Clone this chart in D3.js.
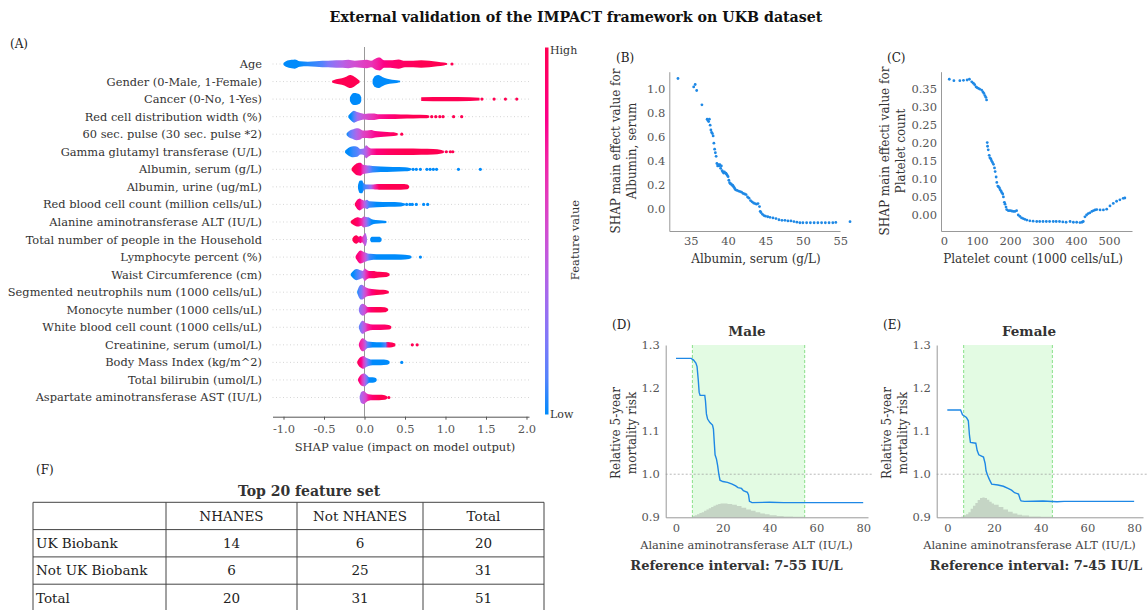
<!DOCTYPE html>
<html>
<head>
<meta charset="utf-8">
<script src="https://cdn.jsdelivr.net/npm/d3@7"></script>
<style>
  body { margin: 0; background: #fff; }
  svg { display: block; }
  text { font-family: "DejaVu Serif", "Liberation Serif", serif; }
</style>
</head>
<body>
<svg id="chart" width="1148" height="610"></svg>
<script>
// ---------- Panel A: SHAP summary (beeswarm) ----------
const features = [
  "Age", "Gender (0-Male, 1-Female)", "Cancer (0-No, 1-Yes)",
  "Red cell distribution width (%)", "60 sec. pulse (30 sec. pulse *2)",
  "Gamma glutamyl transferase (U/L)", "Albumin, serum (g/L)", "Albumin, urine (ug/mL)",
  "Red blood cell count (million cells/uL)", "Alanine aminotransferase ALT (IU/L)",
  "Total number of people in the Household", "Lymphocyte percent (%)",
  "Waist Circumference (cm)", "Segmented neutrophils num (1000 cells/uL)",
  "Monocyte number (1000 cells/uL)", "White blood cell count (1000 cells/uL)",
  "Creatinine, serum (umol/L)", "Body Mass Index (kg/m^2)", "Total bilirubin (umol/L)",
  "Aspartate aminotransferase AST (IU/L)"
];
const shapTicks = [-1.0, -0.5, 0.0, 0.5, 1.0, 1.5, 2.0];

// per feature: list of swarm segments, each knot = [SHAP value, point density, feature value 0..1]
const swarmProfiles = [
  [[[-1.00,1,0],[-0.97,3,0],[-0.90,4.5,0],[-0.86,5,0],[-0.80,3,0],[-0.70,2.5,0.02],[-0.60,3,0.05],[-0.52,3.5,0.1],[-0.45,3.5,0.2],[-0.35,4,0.3],[-0.27,4,0.38],[-0.20,4.5,0.45],[-0.12,3.5,0.5],[-0.05,4,0.55],[0.03,4.5,0.6],[0.08,3.5,0.62],[0.15,6.5,0.7],[0.19,7,0.75],[0.24,4,0.82],[0.32,4,0.88],[0.42,5,0.92],[0.50,3.5,0.95],[0.60,3.5,0.97],[0.70,4,1],[0.80,3.5,1],[0.90,2.5,1],[0.98,1.5,1],[1.02,0.8,1]]],
  [[[-0.40,1,1],[-0.35,2.5,1],[-0.28,3.5,1],[-0.22,5.5,1],[-0.18,7,1],[-0.13,5.5,1],[-0.09,3,1],[-0.06,1,1]],
   [[0.10,2,0],[0.13,6,0],[0.17,7,0],[0.22,5,0],[0.28,3,0],[0.34,2,0],[0.40,1.5,0],[0.44,0.8,0]]],
  [[[-0.18,2,0],[-0.16,5,0],[-0.13,6.5,0],[-0.09,6,0],[-0.06,5,0],[-0.04,2,0]],
   [[0.70,2,1],[1.00,2.2,1],[1.30,2,1],[1.42,1.5,1]]],
  [[[-0.20,1,0],[-0.17,4,0],[-0.13,6.5,0.1],[-0.09,5,0.3],[-0.05,4,0.4],[0.0,3,0.5],[0.05,3.5,0.55],[0.12,3.5,0.65],[0.18,2.5,0.75],[0.30,2.5,0.85],[0.45,2.2,0.95],[0.60,2,1],[0.77,1.8,1],[0.80,1,1]]],
  [[[-0.22,1,0],[-0.19,3.5,0.1],[-0.15,5,0.2],[-0.10,6.5,0.35],[-0.06,6,0.45],[-0.02,4,0.55],[0.03,4,0.62],[0.08,4.5,0.7],[0.13,3.5,0.78],[0.20,3,0.85],[0.28,2.5,0.9],[0.36,2,0.95],[0.41,1,1]]],
  [[[-0.24,1,0],[-0.20,4,0],[-0.14,6,0.05],[-0.09,5.5,0.1],[-0.05,3,0.2],[-0.01,3.5,0.3],[0.02,7,0.4],[0.05,5,0.55],[0.09,3.5,0.7],[0.15,3.5,0.85],[0.30,3.5,0.95],[0.50,3.5,1],[0.70,3.3,1],[0.85,3,1],[0.95,2,1],[0.98,1,1]]],
  [[[-0.16,1,1],[-0.13,4,1],[-0.09,6.5,0.95],[-0.05,7,0.85],[-0.02,5,0.6],[0.02,4.5,0.4],[0.06,4,0.2],[0.10,3.5,0.05],[0.20,3,0],[0.35,2.5,0],[0.50,2.2,0],[0.56,1.5,0],[0.58,0.8,0]]],
  [[[-0.08,2,0],[-0.06,6.5,0],[-0.03,7,0],[-0.01,4,0.05],[0.02,2.5,0.1],[0.08,2.5,0.3],[0.13,2.8,0.7],[0.18,3,0.95],[0.30,3,1],[0.45,3,1],[0.53,2.5,1],[0.55,1,1]]],
  [[[-0.12,1,1],[-0.09,5,0.9],[-0.06,6.5,0.8],[-0.03,5,0.6],[0.0,4,0.4],[0.03,5,0.2],[0.06,3.5,0.05],[0.15,3,0],[0.30,2.5,0],[0.45,2.2,0],[0.50,1,0]]],
  [[[-0.17,1,1],[-0.13,3.5,1],[-0.08,5,0.9],[-0.04,4,0.7],[-0.01,6,0.5],[0.02,5.5,0.3],[0.05,5,0.1],[0.09,3,0],[0.14,2,0],[0.22,1.5,0],[0.27,1,0]]],
  [[[-0.15,1,1],[-0.13,3.5,1],[-0.10,4.5,1],[-0.07,3,0.9],[-0.05,4,0.8],[-0.03,3,0.7],[-0.01,5,0.5],[0.01,7,0.4],[0.03,2,0.3]],
   [[0.07,1,0],[0.09,3,0],[0.13,3,0],[0.18,3,0],[0.21,1.5,0]]],
  [[[-0.11,1,0.9],[-0.08,5,0.85],[-0.05,7,0.75],[-0.02,6,0.6],[0.01,5,0.45],[0.04,4,0.2],[0.07,3.5,0.05],[0.15,3,0],[0.30,3,0],[0.45,2.8,0],[0.55,2,0],[0.58,1,0]]],
  [[[-0.17,1,0],[-0.14,4,0],[-0.10,6,0.05],[-0.06,5,0.15],[-0.02,4,0.35],[0.0,7,0.5],[0.03,5,0.7],[0.06,4,0.85],[0.10,4,0.95],[0.18,3,1],[0.27,2.5,1],[0.31,1,1]]],
  [[[-0.09,1,0],[-0.07,5.5,0.1],[-0.04,8,0.2],[-0.01,7,0.4],[0.02,5,0.55],[0.05,4,0.7],[0.09,3.5,0.85],[0.15,3,1],[0.23,2.5,1],[0.29,1.5,1],[0.30,0.8,1]]],
  [[[-0.07,1,0.2],[-0.05,5,0.3],[-0.02,6.5,0.4],[0.01,5,0.5],[0.04,3,0.75],[0.08,3,0.9],[0.15,3,1],[0.25,2.8,1],[0.29,1,1]]],
  [[[-0.07,1,0.1],[-0.05,5,0.2],[-0.02,7,0.35],[0.01,5,0.5],[0.04,4,0.7],[0.10,3,0.85],[0.20,3,0.9],[0.30,2.5,0.95],[0.33,1,1]]],
  [[[-0.07,1,0.8],[-0.05,5,0.7],[-0.02,7,0.6],[0.01,5.5,0.4],[0.04,3.5,0.1],[0.10,3,0],[0.20,2.8,0],[0.26,2.8,0.1],[0.29,3,0.9],[0.34,2.5,1],[0.38,1.5,1]]],
  [[[-0.09,1,1],[-0.07,4,0.95],[-0.04,6,0.8],[-0.01,7,0.55],[0.02,5,0.3],[0.05,4,0.1],[0.10,3,0],[0.20,3,0],[0.28,2.5,0],[0.31,1,0]]],
  [[[-0.08,1,0.9],[-0.06,4,0.85],[-0.03,6.5,0.6],[0.0,7,0.4],[0.03,5,0.15],[0.06,3,0],[0.10,3,0],[0.14,2,0],[0.15,1,0]]],
  [[[-0.06,1,0.3],[-0.04,6,0.35],[-0.01,7,0.45],[0.02,5,0.55],[0.05,3.5,0.75],[0.10,3,0.9],[0.18,3,1],[0.25,2.5,1],[0.28,1,1]]]
];

// isolated points: [feature index, SHAP value, feature value]
const swarmOutliers = [
  [0,1.08,1],
  [2,1.45,1],[2,1.60,1],[2,1.74,1],[2,1.88,1],
  [3,0.83,1],[3,0.88,1],[3,0.93,1],[3,0.97,1],[3,1.10,1],[3,1.20,1],
  [4,0.46,1],
  [5,1.01,1],[5,1.06,1],[5,1.09,1],
  [6,0.60,0],[6,0.64,0],[6,0.69,0],[6,0.77,0],[6,0.81,0],[6,0.85,0],[6,0.89,0],[6,1.16,0],[6,1.43,0],
  [8,0.52,0],[8,0.56,0],[8,0.59,0],[8,0.64,0],[8,0.73,0],[8,0.78,0],
  [11,0.69,0],
  [16,0.59,1],[16,0.65,1],
  [17,0.46,0],
  [19,0.30,1]
];

// ---------- Panel B: Albumin, serum dependence ----------
const albuminValues = [33.3,35.4,35.6,35.8,36.5,37.2,37.3,37.4,37.5,37.6,37.7,37.8,37.9,38.0,38.1,38.2,38.3,38.4,38.5,38.6,38.7,38.8,38.9,39.0,39.1,39.2,39.3,39.4,39.5,39.6,39.7,39.8,39.9,40.0,40.1,40.2,40.3,40.4,40.5,40.6,40.7,40.8,40.9,41.0,41.2,41.4,41.6,41.8,42.0,42.2,42.4,42.6,42.8,43.0,43.2,43.4,43.6,43.8,44.0,44.2,44.3,44.4,44.6,44.8,45.0,45.3,45.6,46.0,46.4,46.8,47.2,47.6,48.0,48.4,48.8,49.2,49.6,50.0,50.5,51.0,51.5,52.0,52.5,53.0,53.5,54.0,54.4,56.3];
const albuminShap = [1.09,1.02,1.04,0.99,0.87,0.75,0.74,0.73,0.75,0.70,0.66,0.64,0.63,0.61,0.55,0.50,0.47,0.44,0.38,0.36,0.37,0.36,0.37,0.34,0.36,0.32,0.31,0.30,0.31,0.30,0.30,0.29,0.28,0.27,0.24,0.22,0.21,0.21,0.20,0.20,0.19,0.18,0.17,0.16,0.155,0.15,0.145,0.14,0.13,0.125,0.12,0.10,0.09,0.07,0.06,0.05,0.045,0.04,0.045,0.02,-0.02,-0.03,-0.045,-0.055,-0.06,-0.065,-0.07,-0.075,-0.08,-0.09,-0.095,-0.095,-0.10,-0.10,-0.105,-0.11,-0.115,-0.115,-0.115,-0.115,-0.115,-0.115,-0.115,-0.115,-0.115,-0.115,-0.112,-0.106];
const albuminTicks = [35, 40, 45, 50, 55];
const albuminShapTicks = [0.0, 0.2, 0.4, 0.6, 0.8, 1.0];

// ---------- Panel C: Platelet count dependence ----------
const plateletValues = [16,30,48,59,70,77,84,89,93,97,100,104,108,114,118,121,124,127,129,131,132,134,137,139,142,144,147,150,153,155,158,160,163,165,168,170,173,175,178,180,183,185,188,190,195,200,205,210,215,220,225,230,235,240,245,251,260,270,281,290,300,310,320,331,340,350,360,370,382,392,402,412,418,422,427,432,437,442,448,453,458,463,473,483,493,503,513,523,533,543,548];
const plateletShap = [0.375,0.371,0.371,0.372,0.373,0.375,0.368,0.364,0.36,0.354,0.352,0.350,0.348,0.345,0.34,0.336,0.33,0.325,0.318,0.20,0.19,0.18,0.165,0.158,0.155,0.15,0.145,0.14,0.13,0.12,0.105,0.09,0.08,0.078,0.075,0.07,0.066,0.062,0.058,0.05,0.035,0.03,0.022,0.015,0.012,0.012,0.011,0.01,0.01,0.012,0.0,-0.004,-0.008,-0.01,-0.012,-0.014,-0.016,-0.017,-0.018,-0.018,-0.018,-0.018,-0.018,-0.018,-0.018,-0.018,-0.019,-0.02,-0.018,-0.02,-0.02,-0.021,-0.02,-0.018,-0.005,0.0,0.004,0.006,0.01,0.012,0.014,0.015,0.014,0.014,0.016,0.025,0.032,0.038,0.042,0.046,0.047];
const plateletTicks = [0, 100, 200, 300, 400, 500];
const plateletShapTicks = [0.00, 0.05, 0.10, 0.15, 0.20, 0.25, 0.30, 0.35];

// ---------- Panels D/E: ALT relative mortality risk ----------
const altTicks = [0, 20, 40, 60, 80];
const riskTicks = [0.9, 1.0, 1.1, 1.2, 1.3];
const maleAlt  = [0,6.5,7.5,8.5,9.0,9.5,9.9,10.3,12.3,12.6,13.0,13.5,14.5,15.6,16.0,16.4,16.7,17.3,17.8,18.3,18.8,20,22,24,25.5,26.5,28,28.8,30.5,31,31.4,32.5,40,46,80];
const maleRisk = [1.269,1.269,1.265,1.258,1.25,1.22,1.19,1.183,1.183,1.17,1.14,1.128,1.12,1.114,1.105,1.07,1.045,1.035,1.02,1.0,0.986,0.983,0.981,0.977,0.973,0.969,0.967,0.962,0.958,0.952,0.937,0.934,0.935,0.934,0.934];
const femaleAlt  = [0,5.7,6.5,8.2,9.0,9.5,9.9,12.2,12.8,13.5,15.5,16.2,16.6,17.2,18.0,19.0,21.7,24,26,27.5,28.8,30.5,31.2,31.6,33,41,47,50,80];
const femaleRisk = [1.149,1.149,1.138,1.132,1.124,1.09,1.074,1.072,1.055,1.045,1.04,1.025,1.008,0.998,0.988,0.977,0.975,0.972,0.967,0.963,0.957,0.954,0.942,0.938,0.937,0.938,0.936,0.937,0.937];
// ALT distribution drawn on the risk axis baseline
const maleDensAlt = [7,8,9,10,11,12,13,14,15,16,17,18,19,20,21,22,24,26,28,30,32,34,36,38,40,43,46,50,55];
const maleDens    = [0.903,0.905,0.907,0.91,0.912,0.915,0.918,0.921,0.924,0.927,0.929,0.931,0.932,0.932,0.932,0.931,0.929,0.926,0.922,0.918,0.915,0.912,0.909,0.907,0.905,0.903,0.902,0.901,0.9];
const femaleDensAlt = [6,7,8,9,10,11,12,13,14,15,16,17,18,19,20,22,24,26,28,30,32,35,40,45];
const femaleDens    = [0.902,0.905,0.907,0.912,0.92,0.927,0.933,0.94,0.945,0.946,0.945,0.941,0.936,0.932,0.929,0.924,0.918,0.913,0.909,0.906,0.904,0.902,0.901,0.9];
const maleRefInterval = [7, 55];
const femaleRefInterval = [7, 45];

// ---------- Panel F: feature overlap table ----------
const tableCols = ["", "NHANES", "Not NHANES", "Total"];
const tableRows = ["UK Biobank", "Not UK Biobank", "Total"];
const tableValues = [[14, 6, 20], [6, 25, 31], [20, 31, 51]];

// =====================================================================
const svg = d3.select("#chart");
const defs = svg.append("defs");
const textDark = "#333", tickGrey = "#555", spineGrey = "#999";
const pointBlue = "#1e88e5";

svg.append("text").attr("x", 576).attr("y", 22).attr("text-anchor", "middle")
  .attr("font-size", 14.2).attr("font-weight", "bold").attr("fill", "#111")
  .text("External validation of the IMPACT framework on UKB dataset");

function panelTag(x, y, t) {
  svg.append("text").attr("x", x).attr("y", y).attr("font-size", 12).attr("fill", "#222").text(t);
}

// ---------------- A ----------------
const featColor = d3.scaleLinear().domain([0, 1]).range(["#008bfb", "#ff0052"]).interpolate(d3.interpolateHcl);
const xA = d3.scaleLinear().domain([-1.136, 2.031]).range([272.5, 529]);
const yA = d3.scalePoint().domain(d3.range(features.length)).range([64, 397.5]);
const hA = d3.scaleLinear().domain([0, 8]).range([0, 7.4]);
const gA = svg.append("g");
panelTag(10, 48, "(A)");

gA.selectAll("line.grid").data(features).join("line")
  .attr("x1", 272.5).attr("x2", 529)
  .attr("y1", (d, i) => yA(i)).attr("y2", (d, i) => yA(i))
  .attr("stroke", "#ccc").attr("stroke-width", 0.8).attr("stroke-dasharray", "1,2.5");

gA.selectAll("text.feat").data(features).join("text")
  .attr("x", 262).attr("y", (d, i) => yA(i)).attr("dy", "0.35em")
  .attr("text-anchor", "end").attr("font-size", 11.4).attr("fill", textDark).text(d => d);

gA.append("line").attr("x1", xA(0)).attr("x2", xA(0)).attr("y1", 47).attr("y2", 416.7)
  .attr("stroke", "#999").attr("stroke-width", 1);

const swarmArea = d3.area().curve(d3.curveMonotoneX).x(k => xA(k[0]));
swarmProfiles.forEach((segments, fi) => {
  const yc = yA(fi);
  segments.forEach((seg, si) => {
    const id = `sw${fi}_${si}`;
    const x1 = xA(seg[0][0]), x2 = xA(seg[seg.length - 1][0]);
    const grad = defs.append("linearGradient").attr("id", id)
      .attr("gradientUnits", "userSpaceOnUse").attr("x1", x1).attr("x2", x2).attr("y1", 0).attr("y2", 0);
    seg.forEach(k => grad.append("stop")
      .attr("offset", (xA(k[0]) - x1) / (x2 - x1)).attr("stop-color", featColor(k[2])));
    gA.append("path").datum(seg)
      .attr("d", swarmArea.y0(k => yc - hA(k[1])).y1(k => yc + hA(k[1])))
      .attr("fill", `url(#${id})`);
  });
});
gA.selectAll("circle.out").data(swarmOutliers).join("circle")
  .attr("cx", d => xA(d[1])).attr("cy", d => yA(d[0])).attr("r", 1.6)
  .attr("fill", d => featColor(d[2]));

const axA = gA.append("g").attr("transform", "translate(0,416.7)")
  .call(d3.axisBottom(xA).tickValues(shapTicks).tickFormat(d3.format(".1f")).tickSize(3).tickPadding(5).tickSizeOuter(0));
axA.select(".domain").attr("stroke", "#555");
axA.selectAll(".tick line").attr("stroke", "#555");
axA.selectAll(".tick text").attr("font-size", 11.5).attr("fill", tickGrey).attr("font-family", "DejaVu Serif")
  .text(d => d3.format(".1f")(d).replace("−", "-"));
gA.append("text").attr("x", 405).attr("y", 451).attr("text-anchor", "middle")
  .attr("font-size", 11.5).attr("fill", textDark).text("SHAP value (impact on model output)");

// colour bar
const cbGrad = defs.append("linearGradient").attr("id", "cbar").attr("x1", 0).attr("x2", 0).attr("y1", 1).attr("y2", 0);
d3.range(0, 1.0001, 0.1).forEach(t => cbGrad.append("stop").attr("offset", t).attr("stop-color", featColor(t)));
svg.append("rect").attr("x", 545).attr("y", 47.5).attr("width", 3.5).attr("height", 367).attr("fill", "url(#cbar)");
svg.append("text").attr("x", 550).attr("y", 54).attr("font-size", 11).attr("fill", textDark).text("High");
svg.append("text").attr("x", 550).attr("y", 418).attr("font-size", 11).attr("fill", textDark).text("Low");
svg.append("text").attr("transform", "translate(579,240) rotate(-90)").attr("text-anchor", "middle")
  .attr("font-size", 11.5).attr("fill", textDark).text("Feature value");

// ---------------- shared axis helper ----------------
function styleAxis(g) {
  g.select(".domain").attr("stroke", spineGrey);
  g.selectAll(".tick line").attr("stroke", spineGrey);
  g.selectAll(".tick text").attr("font-size", 11.5).attr("fill", tickGrey).attr("font-family", "DejaVu Serif");
}
function yLabel2(x, y, lines) {
  const t = svg.append("text").attr("transform", `translate(${x},${y}) rotate(-90)`)
    .attr("text-anchor", "middle").attr("font-size", 12).attr("fill", textDark);
  lines.forEach((l, i) => t.append("tspan").attr("x", 0).attr("dy", i === 0 ? 0 : "1.3em").text(l));
}

// ---------------- B ----------------
panelTag(616, 62, "(B)");
const xB = d3.scaleLinear().domain([32.14, 54.96]).range([669.3, 840]);
const yB = d3.scaleLinear().domain([-0.184, 1.147]).range([231, 71.7]);
svg.append("g").selectAll("circle").data(albuminValues).join("circle")
  .attr("cx", d => xB(d)).attr("cy", (d, i) => yB(albuminShap[i])).attr("r", 1.4).attr("fill", pointBlue);
svg.append("g").attr("transform", "translate(0,231)")
  .call(d3.axisBottom(xB).tickValues(albuminTicks).tickSize(0).tickPadding(6).tickSizeOuter(0)).call(styleAxis);
svg.append("g").attr("transform", "translate(669.3,0)")
  .call(d3.axisLeft(yB).tickValues(albuminShapTicks).tickFormat(d3.format(".1f")).tickSize(0).tickPadding(4).tickSizeOuter(0)).call(styleAxis);
yLabel2(620, 151, ["SHAP main effect value for", "Albumin, serum"]);
svg.append("text").attr("x", 756).attr("y", 263).attr("text-anchor", "middle")
  .attr("font-size", 12).attr("fill", textDark).text("Albumin, serum (g/L)");

// ---------------- C ----------------
panelTag(887, 62, "(C)");
const xC = d3.scaleLinear().domain([-9.1, 569.7]).range([941, 1132]);
const yC = d3.scaleLinear().domain([-0.0442, 0.3959]).range([231, 71.7]);
svg.append("g").selectAll("circle").data(plateletValues).join("circle")
  .attr("cx", d => xC(d)).attr("cy", (d, i) => yC(plateletShap[i])).attr("r", 1.4).attr("fill", pointBlue);
svg.append("g").attr("transform", "translate(0,231)")
  .call(d3.axisBottom(xC).tickValues(plateletTicks).tickSize(0).tickPadding(6).tickSizeOuter(0)).call(styleAxis);
svg.append("g").attr("transform", "translate(941,0)")
  .call(d3.axisLeft(yC).tickValues(plateletShapTicks).tickFormat(d3.format(".2f")).tickSize(0).tickPadding(4).tickSizeOuter(0)).call(styleAxis);
yLabel2(889, 151, ["SHAP main effecti value for", "Platelet count"]);
svg.append("text").attr("x", 1033).attr("y", 263).attr("text-anchor", "middle")
  .attr("font-size", 12).attr("fill", textDark).text("Platelet count (1000 cells/uL)");

// ---------------- D / E ----------------
function riskPanel(opt) {
  const x = d3.scaleLinear().domain(opt.xDomain).range(opt.xRange);
  const y = d3.scaleLinear().domain([0.9, 1.3]).range([517.3, 345]);
  const g = svg.append("g");
  panelTag(opt.tagX, 329, opt.tag);
  g.append("text").attr("x", opt.titleX).attr("y", 336).attr("text-anchor", "middle")
    .attr("font-size", 13.5).attr("font-weight", "bold").attr("fill", "#333").text(opt.title);
  // reference interval band
  g.append("rect").attr("x", x(opt.ref[0])).attr("width", x(opt.ref[1]) - x(opt.ref[0]))
    .attr("y", y(1.3)).attr("height", y(0.9) - y(1.3)).attr("fill", "#90ee90").attr("fill-opacity", 0.25);
  opt.ref.forEach(v => g.append("line").attr("x1", x(v)).attr("x2", x(v)).attr("y1", y(1.3)).attr("y2", y(0.9))
    .attr("stroke", "#7fdc7f").attr("stroke-width", 0.9).attr("stroke-dasharray", "3,2"));
  // ALT distribution
  g.append("path").datum(opt.densAlt.map((a, i) => [a, opt.dens[i]]))
    .attr("d", d3.area().curve(d3.curveStepAfter).x(d => x(d[0])).y0(y(0.9)).y1(d => y(d[1])))
    .attr("fill", "#8a8a8a").attr("fill-opacity", 0.33);
  // reference risk = 1
  g.append("line").attr("x1", opt.xRange[0]).attr("x2", opt.xRange[1] + 4).attr("y1", y(1)).attr("y2", y(1))
    .attr("stroke", "#999").attr("stroke-width", 0.7).attr("stroke-dasharray", "2,2");
  g.append("path").datum(opt.alt.map((a, i) => [a, opt.risk[i]]))
    .attr("d", d3.line().x(d => x(d[0])).y(d => y(d[1])))
    .attr("fill", "none").attr("stroke", "#1e88e5").attr("stroke-width", 1.4);
  g.append("g").attr("transform", "translate(0,517.3)")
    .call(d3.axisBottom(x).tickValues(altTicks).tickSize(0).tickPadding(7).tickSizeOuter(0)).call(styleAxis);
  g.append("g").attr("transform", `translate(${opt.xRange[0]},0)`)
    .call(d3.axisLeft(y).tickValues(riskTicks).tickFormat(d3.format(".1f")).tickSize(0).tickPadding(6).tickSizeOuter(0)).call(styleAxis);
  yLabel2(opt.yLabX, 433, ["Relative 5-year", "mortality risk"]);
  g.append("text").attr("x", opt.xLabX).attr("y", 549).attr("text-anchor", "middle")
    .attr("font-size", 11.4).attr("fill", "#444").text("Alanine aminotransferase ALT (IU/L)");
  g.append("text").attr("x", opt.refX).attr("y", 570).attr("text-anchor", "middle")
    .attr("font-size", 13).attr("font-weight", "bold").attr("fill", "#333")
    .text(`Reference interval: ${opt.ref[0]}-${opt.ref[1]} IU/L`);
}
riskPanel({ tag: "(D)", tagX: 612, title: "Male", titleX: 747, xDomain: [-4.4, 82.05], xRange: [665.7, 868],
  ref: maleRefInterval, alt: maleAlt, risk: maleRisk, densAlt: maleDensAlt, dens: maleDens,
  yLabX: 620, xLabX: 746.5, refX: 736.5 });
riskPanel({ tag: "(E)", tagX: 883, title: "Female", titleX: 1029, xDomain: [-4.54, 83.8], xRange: [936.7, 1143],
  ref: femaleRefInterval, alt: femaleAlt, risk: femaleRisk, densAlt: femaleDensAlt, dens: femaleDens,
  yLabX: 891, xLabX: 1029.5, refX: 1036 });

// ---------------- F ----------------
panelTag(36, 474, "(F)");
const colEdges = [33, 166, 297, 423, 544];
const rowEdges = [502.3, 529.6, 556.9, 584.2, 611.5];
const gF = svg.append("g");
gF.append("text").attr("x", 309).attr("y", 496).attr("text-anchor", "middle")
  .attr("font-size", 14).attr("font-weight", "bold").attr("fill", "#333").text("Top 20 feature set");
rowEdges.forEach(yv => gF.append("line").attr("x1", colEdges[0]).attr("x2", colEdges[4]).attr("y1", yv).attr("y2", yv)
  .attr("stroke", "#444").attr("stroke-width", 1));
colEdges.forEach(xv => gF.append("line").attr("x1", xv).attr("x2", xv).attr("y1", rowEdges[0]).attr("y2", rowEdges[4])
  .attr("stroke", "#444").attr("stroke-width", 1));
const cellY = i => (rowEdges[i] + rowEdges[i + 1]) / 2;
const cellX = j => (colEdges[j] + colEdges[j + 1]) / 2;
tableCols.forEach((c, j) => gF.append("text").attr("x", cellX(j)).attr("y", cellY(0)).attr("dy", "0.35em")
  .attr("text-anchor", "middle").attr("font-size", 13.5).attr("fill", "#222").text(c));
tableRows.forEach((r, i) => {
  gF.append("text").attr("x", colEdges[0] + 3).attr("y", cellY(i + 1)).attr("dy", "0.35em")
    .attr("font-size", 13.5).attr("fill", "#222").text(r);
  tableValues[i].forEach((v, j) => gF.append("text").attr("x", cellX(j + 1)).attr("y", cellY(i + 1)).attr("dy", "0.35em")
    .attr("text-anchor", "middle").attr("font-size", 13.5).attr("fill", "#222").text(v));
});
</script>
</body>
</html>
